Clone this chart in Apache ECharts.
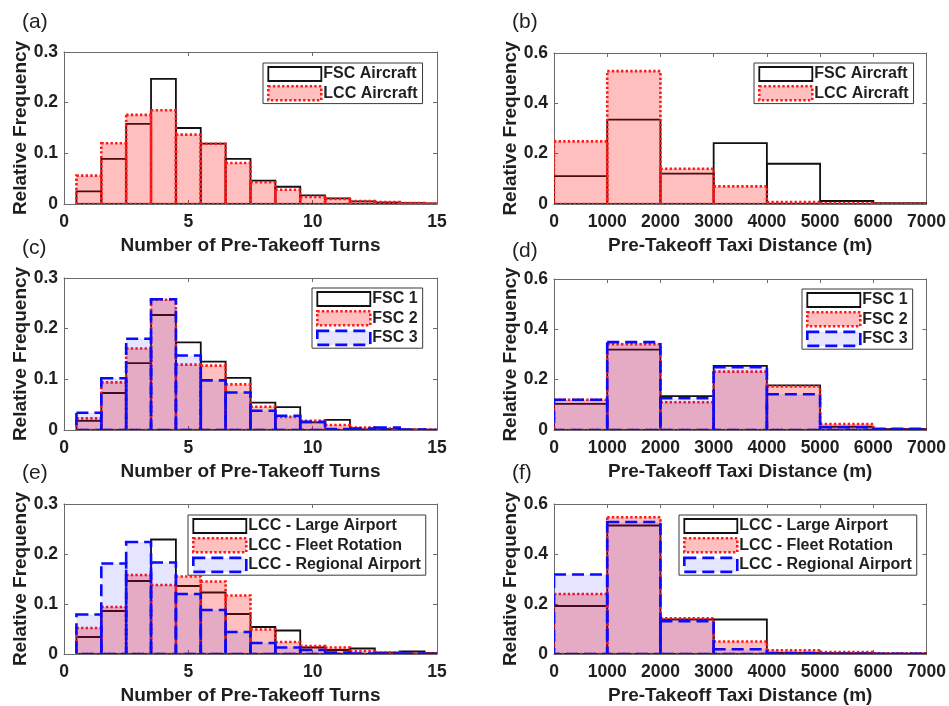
<!DOCTYPE html>
<html>
<head>
<meta charset="utf-8">
<script src="https://cdn.jsdelivr.net/npm/echarts@6/dist/echarts.min.js"></script>
<style>
  html, body { margin: 0; padding: 0; background: #fff; }
  #chart { width: 949px; height: 706px; }
</style>
</head>
<body>
<div id="chart"></div>
<script>
// Histogram bins
const turnBinCenters = [1, 2, 3, 4, 5, 6, 7, 8, 9, 10, 11, 12, 13, 14, 15];
const distBinStarts = [0, 1000, 2000, 3000, 4000, 5000, 6000];

// (a) turns, FSC vs LCC
const fscTurns = [0.025, 0.089, 0.158, 0.247, 0.150, 0.119, 0.089, 0.046, 0.034, 0.017, 0.011, 0.005, 0.003, 0.002, 0.001];
const lccTurns = [0.056, 0.120, 0.176, 0.185, 0.137, 0.119, 0.081, 0.043, 0.028, 0.014, 0.010, 0.006, 0.004, 0.002, 0.001];
// (b) taxi distance, FSC vs LCC
const fscDist = [0.111, 0.335, 0.121, 0.242, 0.160, 0.012, 0.003];
const lccDist = [0.249, 0.528, 0.140, 0.070, 0.008, 0.004, 0.001];
// (c) turns, FSC carriers
const fsc1Turns = [0.018, 0.073, 0.132, 0.227, 0.173, 0.135, 0.103, 0.054, 0.045, 0.015, 0.020, 0.001, 0.002, 0.001, 0.000];
const fsc2Turns = [0.023, 0.094, 0.161, 0.257, 0.129, 0.127, 0.090, 0.046, 0.026, 0.018, 0.010, 0.005, 0.003, 0.001, 0.001];
const fsc3Turns = [0.034, 0.102, 0.180, 0.258, 0.147, 0.098, 0.074, 0.038, 0.028, 0.016, 0.002, 0.003, 0.005, 0.001, 0.000];
// (d) taxi distance, FSC carriers
const fsc1Dist = [0.104, 0.319, 0.135, 0.255, 0.177, 0.013, 0.004];
const fsc2Dist = [0.120, 0.341, 0.110, 0.232, 0.173, 0.024, 0.003];
const fsc3Dist = [0.120, 0.349, 0.126, 0.250, 0.142, 0.011, 0.005];
// (e) turns, LCC groups
const largeTurns = [0.034, 0.086, 0.146, 0.229, 0.136, 0.123, 0.080, 0.054, 0.047, 0.013, 0.008, 0.011, 0.003, 0.005, 0.002];
const fleetTurns = [0.052, 0.094, 0.158, 0.138, 0.155, 0.145, 0.117, 0.049, 0.024, 0.016, 0.013, 0.006, 0.003, 0.001, 0.001];
const regionalTurns = [0.079, 0.181, 0.224, 0.183, 0.120, 0.088, 0.044, 0.022, 0.013, 0.008, 0.003, 0.001, 0.001, 0.001, 0.000];
// (f) taxi distance, LCC groups
const largeDist = [0.192, 0.514, 0.138, 0.138, 0.004, 0.003, 0.001];
const fleetDist = [0.240, 0.547, 0.143, 0.050, 0.015, 0.008, 0.003];
const regionalDist = [0.318, 0.528, 0.131, 0.019, 0.004, 0.001, 0.001];

const panelLabels = ['(a)', '(b)', '(c)', '(d)', '(e)', '(f)'];
const turnsTitle = 'Number of Pre-Takeoff Turns';
const distTitle = 'Pre-Takeoff Taxi Distance (m)';
const yTitle = 'Relative Frequency';

const FONT = '"Liberation Sans", Arial, Helvetica, sans-serif';
const TEXT = '#1f1f1f';
const AXIS = '#6a6a6a';

// Edge/face styles of the three histogram kinds
const STYLES = {
  black: { fill: 'rgba(255,255,255,0)', stroke: '#111111', lineWidth: 1.8, dash: null },
  red:   { fill: 'rgba(255,0,0,0.25)', stroke: '#ff1a1a', lineWidth: 2.6, dash: [2.4, 2.2] },
  blue:  { fill: 'rgba(0,0,255,0.10)', stroke: '#0a0aff', lineWidth: 2.6, dash: [12, 6] }
};

// Turn-count bins are one unit wide, centred on the integer; distance bins are 1000 m wide
function turnBins(values) {
  return turnBinCenters.map((c, i) => [c - 0.5, c + 0.5, values[i]]);
}
function distBins(values) {
  return distBinStarts.map((s, i) => [s, s + 1000, values[i]]);
}

function histSeries(name, data, kind, panel) {
  const st = STYLES[kind];
  return {
    type: 'custom',
    name: name,
    xAxisIndex: panel * 2,
    yAxisIndex: panel * 2,
    clip: true,
    encode: { x: [0, 1], y: 2 },
    data: data,
    itemStyle: {
      color: st.fill,
      borderColor: st.stroke,
      borderWidth: st.lineWidth,
      borderType: st.dash || 'solid'
    },
    renderItem: function (params, api) {
      const p0 = api.coord([api.value(0), api.value(2)]);
      const p1 = api.coord([api.value(1), 0]);
      return {
        type: 'rect',
        shape: { x: p0[0], y: p0[1], width: p1[0] - p0[0], height: p1[1] - p0[1] },
        style: {
          fill: st.fill,
          stroke: st.stroke,
          lineWidth: st.lineWidth,
          lineDash: st.dash,
          lineCap: 'butt'
        }
      };
    }
  };
}

const gridBoxes = [
  { left: 64, top: 52, width: 373, height: 152 },
  { left: 554, top: 53, width: 374, height: 151 },
  { left: 64, top: 278, width: 373, height: 152 },
  { left: 554, top: 279, width: 374, height: 151 },
  { left: 64, top: 504, width: 373, height: 152 },
  { left: 554, top: 504, width: 374, height: 151 }
];

const xAxes = [];
const yAxes = [];
gridBoxes.forEach((g, i) => {
  const isTurns = i % 2 === 0;
  const xr = isTurns ? { min: 0, max: 15, interval: 5 } : { min: 0, max: 7000, interval: 1000 };
  const yr = isTurns ? { min: 0, max: 0.3, interval: 0.1 } : { min: 0, max: 0.6, interval: 0.2 };
  const line = { show: true, onZero: false, lineStyle: { color: AXIS, width: 1 } };
  const tick = { show: true, inside: true, length: 4, lineStyle: { color: AXIS, width: 1 } };
  xAxes.push({
    gridIndex: i, type: 'value', position: 'bottom', ...xr,
    axisLine: line, axisTick: tick, splitLine: { show: false },
    axisLabel: {
      margin: 9, color: TEXT, fontFamily: FONT, fontWeight: 'bold', fontSize: 17.5,
      formatter: v => String(v)
    },
    name: isTurns ? turnsTitle : distTitle,
    nameLocation: 'middle', nameGap: 32,
    nameTextStyle: { color: TEXT, fontFamily: FONT, fontWeight: 'bold', fontSize: 19 }
  });
  xAxes.push({
    gridIndex: i, type: 'value', position: 'top', ...xr,
    axisLine: line, axisTick: tick, splitLine: { show: false }, axisLabel: { show: false }
  });
  yAxes.push({
    gridIndex: i, type: 'value', position: 'left', ...yr,
    axisLine: line, axisTick: tick, splitLine: { show: false },
    axisLabel: {
      margin: 6, color: TEXT, fontFamily: FONT, fontWeight: 'bold', fontSize: 17.5,
      formatter: v => String(Math.round(v * 10) / 10)
    },
    name: yTitle, nameLocation: 'middle', nameGap: 32,
    nameTextStyle: { color: TEXT, fontFamily: FONT, fontWeight: 'bold', fontSize: 19 }
  });
  yAxes.push({
    gridIndex: i, type: 'value', position: 'right', ...yr,
    axisLine: line, axisTick: tick, splitLine: { show: false }, axisLabel: { show: false }
  });
});

const series = [
  histSeries('FSC Aircraft', turnBins(fscTurns), 'black', 0),
  histSeries('LCC Aircraft', turnBins(lccTurns), 'red', 0),
  histSeries('FSC Aircraft', distBins(fscDist), 'black', 1),
  histSeries('LCC Aircraft', distBins(lccDist), 'red', 1),
  histSeries('FSC 1', turnBins(fsc1Turns), 'black', 2),
  histSeries('FSC 2', turnBins(fsc2Turns), 'red', 2),
  histSeries('FSC 3', turnBins(fsc3Turns), 'blue', 2),
  histSeries('FSC 1', distBins(fsc1Dist), 'black', 3),
  histSeries('FSC 2', distBins(fsc2Dist), 'red', 3),
  histSeries('FSC 3', distBins(fsc3Dist), 'blue', 3),
  histSeries('LCC - Large Airport', turnBins(largeTurns), 'black', 4),
  histSeries('LCC - Fleet Rotation', turnBins(fleetTurns), 'red', 4),
  histSeries('LCC - Regional Airport', turnBins(regionalTurns), 'blue', 4),
  histSeries('LCC - Large Airport', distBins(largeDist), 'black', 5),
  histSeries('LCC - Fleet Rotation', distBins(fleetDist), 'red', 5),
  histSeries('LCC - Regional Airport', distBins(regionalDist), 'blue', 5)
];

function legendItem(name, kind) {
  const st = STYLES[kind];
  return {
    name: name,
    icon: 'rect',
    itemStyle: {
      color: st.fill,
      borderColor: st.stroke,
      borderWidth: st.lineWidth,
      borderType: st.dash || 'solid'
    }
  };
}

function legend(left, top, items) {
  return {
    orient: 'vertical', left: left, top: top,
    itemWidth: 53, itemHeight: 14, itemGap: 3,
    padding: [3, 5, 2, 4],
    backgroundColor: '#ffffff', borderColor: '#3a3a3a', borderWidth: 1,
    selectedMode: false,
    textStyle: { color: TEXT, fontFamily: FONT, fontWeight: 'bold', fontSize: 16, padding: [0, 0, 0, -3] },
    data: items
  };
}

const legends = [
  legend(263, 63, [legendItem('FSC Aircraft', 'black'), legendItem('LCC Aircraft', 'red')]),
  legend(754, 63, [legendItem('FSC Aircraft', 'black'), legendItem('LCC Aircraft', 'red')]),
  legend(312, 288, [legendItem('FSC 1', 'black'), legendItem('FSC 2', 'red'), legendItem('FSC 3', 'blue')]),
  legend(802, 289, [legendItem('FSC 1', 'black'), legendItem('FSC 2', 'red'), legendItem('FSC 3', 'blue')]),
  legend(188, 515, [legendItem('LCC - Large Airport', 'black'), legendItem('LCC - Fleet Rotation', 'red'), legendItem('LCC - Regional Airport', 'blue')]),
  legend(679, 515, [legendItem('LCC - Large Airport', 'black'), legendItem('LCC - Fleet Rotation', 'red'), legendItem('LCC - Regional Airport', 'blue')])
];

const labelPos = [[22, 12], [512, 12], [22, 238], [512, 241], [22, 463], [512, 463]];
const titles = panelLabels.map((t, i) => ({
  text: t, left: labelPos[i][0], top: labelPos[i][1], padding: 0,
  textStyle: { color: TEXT, fontFamily: FONT, fontWeight: 'normal', fontSize: 21 }
}));

const chart = echarts.init(document.getElementById('chart'), null, { renderer: 'canvas' });
chart.setOption({
  animation: false,
  backgroundColor: '#ffffff',
  title: titles,
  legend: legends,
  grid: gridBoxes.map(g => ({ ...g, containLabel: false })),
  xAxis: xAxes,
  yAxis: yAxes,
  series: series
});
</script>
</body>
</html>
